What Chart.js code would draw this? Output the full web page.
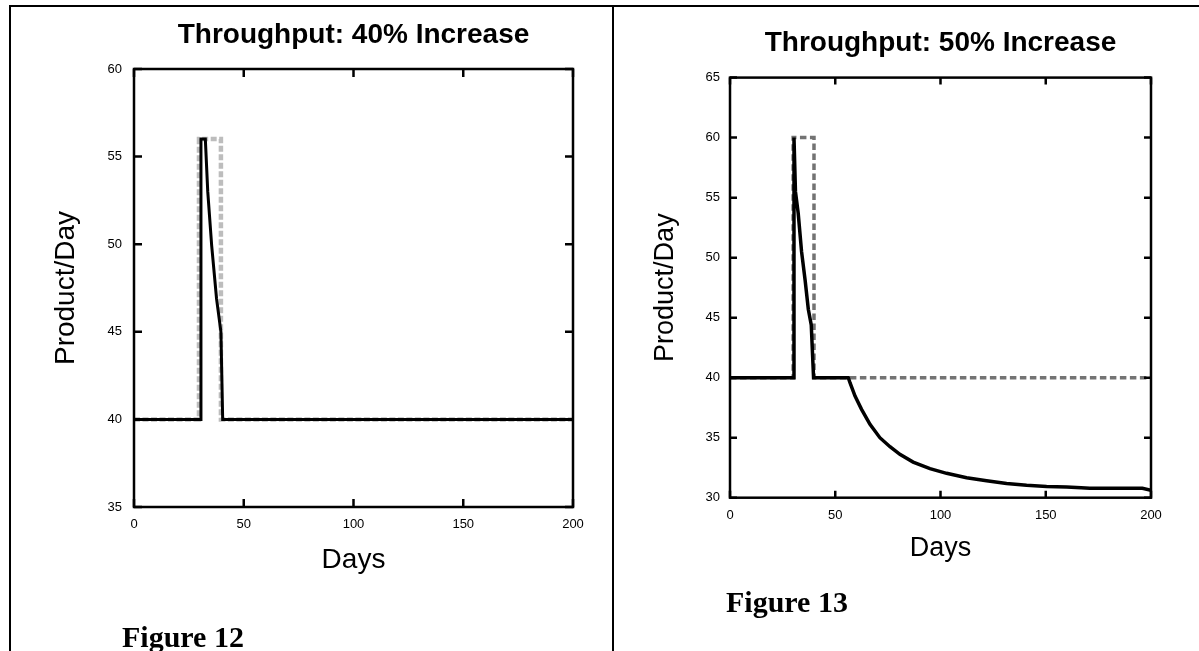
<!DOCTYPE html>
<html>
<head>
<meta charset="utf-8">
<script src="https://cdn.jsdelivr.net/npm/chart.js@4.4.1/dist/chart.umd.min.js"></script>
<style>
  html, body { margin: 0; padding: 0; background: #fff; }
  body { width: 1199px; height: 651px; position: relative; overflow: hidden; }
  canvas { position: absolute; top: 0; }
  .rule { position: absolute; background: #000; }
  .fig { position: absolute; font-family: 'Liberation Serif', 'Times New Roman', serif; font-weight: bold; font-size: 30px; line-height: 30px; color: #000; white-space: nowrap; }
</style>
</head>
<body>
<div class="rule" style="left:9px; top:5px; width:1190px; height:2px;"></div>
<div class="rule" style="left:9px; top:5px; width:2px; height:646px;"></div>
<div class="rule" style="left:612px; top:5px; width:2px; height:646px;"></div>
<canvas id="c1" width="612" height="651" style="left:0px;"></canvas>
<canvas id="c2" width="585" height="651" style="left:614px;"></canvas>
<div class="fig" style="left:122px; top:622px;">Figure 12</div>
<div class="fig" style="left:726px; top:587px;">Figure 13</div>
<script>
// ---------- Data ----------
// Figure 12: Throughput 40% increase
const fig12Title = 'Throughput: 40% Increase';
const fig12DemandDays = [0, 29.6, 29.6, 39.6, 39.6, 200];
const fig12DemandVals = [40, 40, 56, 56, 40, 40];
const fig12OutputDays = [0, 30.2, 30.5, 32.5, 33.6, 35.4, 37.6, 39.6, 40.4, 200];
const fig12OutputVals = [40, 40, 56, 56, 53, 49.9, 46.9, 45, 40, 40];
const fig12YTicks = [35, 40, 45, 50, 55, 60];

// Figure 13: Throughput 50% increase
const fig13Title = 'Throughput: 50% Increase';
const fig13DemandDays = [0, 30, 30, 39.9, 39.9, 200];
const fig13DemandVals = [40, 40, 60, 60, 40, 40];
const fig13OutputDays = [0, 30.1, 30.4, 31.1, 32.4, 34.0, 35.7, 37.2, 38.6, 39.7, 56.2, 57.0, 59.4, 62.5, 66.5, 71.2, 76.0, 80.7, 87.0, 95.0, 102.9, 112.4, 121.9, 131.4, 140.9, 150.4, 159.9, 166.8, 170.9, 195.9, 200];
const fig13OutputVals = [40, 40, 60, 55.5, 53.7, 50.5, 48.1, 45.7, 44.4, 40, 40, 39.58, 38.47, 37.36, 36.11, 35.0, 34.25, 33.61, 32.97, 32.42, 32.03, 31.67, 31.42, 31.19, 31.03, 30.94, 30.89, 30.83, 30.78, 30.78, 30.62];
const fig13YTicks = [30, 35, 40, 45, 50, 55, 60, 65];

const xTicks = [0, 50, 100, 150, 200];
const xLabel = 'Days';
const yLabel = 'Product/Day';

// ---------- Helpers ----------
Chart.defaults.font.family = "'Liberation Sans', Arial, Helvetica, sans-serif";
Chart.defaults.color = '#000';

function pts(xs, ys) { return xs.map((x, i) => ({ x: x, y: ys[i] })); }

const frameTicks = {
  id: 'frameTicks',
  afterDatasetsDraw(chart, args, opts) {
    const { ctx, chartArea: a, scales } = chart;
    const len = opts.len || 8;
    ctx.save();
    ctx.strokeStyle = '#000';
    ctx.lineWidth = opts.width || 2.5;
    ctx.lineCap = 'butt';
    ctx.beginPath();
    scales.x.ticks.forEach(t => {
      const px = scales.x.getPixelForValue(t.value);
      ctx.moveTo(px, a.bottom); ctx.lineTo(px, a.bottom - len);
      ctx.moveTo(px, a.top); ctx.lineTo(px, a.top + len);
    });
    scales.y.ticks.forEach(t => {
      const py = scales.y.getPixelForValue(t.value);
      ctx.moveTo(a.left, py); ctx.lineTo(a.left + len, py);
      ctx.moveTo(a.right, py); ctx.lineTo(a.right - len, py);
    });
    ctx.stroke();
    ctx.lineJoin = 'miter';
    ctx.strokeRect(a.left, a.top, a.right - a.left, a.bottom - a.top);
    ctx.restore();
  }
};

function makeChart(id, cfg) {
  return new Chart(document.getElementById(id), {
    type: 'line',
    data: {
      datasets: [
        {
          data: pts(cfg.outDays, cfg.outVals),
          borderColor: '#000', borderWidth: cfg.outWidth,
          pointRadius: 0, tension: 0, fill: false
        },
        {
          data: pts(cfg.demDays, cfg.demVals),
          borderColor: cfg.demColor, borderWidth: cfg.demWidth,
          borderDash: cfg.demDash, borderCapStyle: 'butt',
          pointRadius: 0, tension: 0, fill: false
        }
      ]
    },
    options: {
      responsive: false,
      animation: false,
      devicePixelRatio: 1,
      layout: { padding: { left: 0, right: cfg.padRight, top: 0, bottom: 0 } },
      plugins: {
        legend: { display: false },
        tooltip: { enabled: false },
        title: {
          display: true, text: cfg.title, fullSize: false,
          font: { size: cfg.titleSize, weight: 'bold' }, color: '#000',
          padding: { top: cfg.titleTop, bottom: cfg.titleBottom }
        },
        frameTicks: { len: cfg.tickLen, width: 2.5 }
      },
      scales: {
        x: {
          type: 'linear', min: 0, max: 200,
          afterBuildTicks: s => { s.ticks = xTicks.map(v => ({ value: v })); },
          ticks: { font: { size: 13 }, color: '#000', padding: cfg.xTickPad, maxRotation: 0, autoSkip: false },
          grid: { display: false, drawTicks: false },
          border: { display: false },
          title: { display: true, text: xLabel, font: { size: cfg.axisTitleSize }, color: '#000', padding: { top: 0, bottom: cfg.xTitlePad } },
          afterFit: s => { s.height = cfg.xHeight; }
        },
        y: {
          type: 'linear', min: cfg.yTicks[0], max: cfg.yTicks[cfg.yTicks.length - 1],
          afterBuildTicks: s => { s.ticks = cfg.yTicks.map(v => ({ value: v })); },
          ticks: { font: { size: 13 }, color: '#000', padding: cfg.yTickPad, autoSkip: false },
          grid: { display: false, drawTicks: false },
          border: { display: false },
          title: { display: true, text: yLabel, font: { size: cfg.axisTitleSize }, color: '#000', padding: { top: cfg.yTitlePad, bottom: 0 } },
          afterFit: s => { s.width = cfg.yWidth; }
        }
      }
    },
    plugins: [frameTicks]
  });
}

makeChart('c1', {
  title: fig12Title, titleSize: 28, titleTop: 18, titleBottom: 17.4,
  outDays: fig12OutputDays, outVals: fig12OutputVals, outWidth: 3,
  demDays: fig12DemandDays, demVals: fig12DemandVals,
  demColor: '#bdbdbd', demWidth: 4.5, demDash: [6, 2.5],
  yTicks: fig12YTicks, padRight: 39, yWidth: 134, xHeight: 144,
  xTickPad: 10, yTickPad: 12, xTitlePad: 74, yTitlePad: 49,
  axisTitleSize: 28, tickLen: 8
});

makeChart('c2', {
  title: fig13Title, titleSize: 28, titleTop: 26, titleBottom: 18,
  outDays: fig13OutputDays, outVals: fig13OutputVals, outWidth: 3.5,
  demDays: fig13DemandDays, demVals: fig13DemandVals,
  demColor: '#737373', demWidth: 3.5, demDash: [6.5, 3.5],
  yTicks: fig13YTicks, padRight: 48, yWidth: 116, xHeight: 153.3,
  xTickPad: 9.5, yTickPad: 10, xTitlePad: 86, yTitlePad: 35,
  axisTitleSize: 27, tickLen: 7
});
</script>
</body>
</html>
